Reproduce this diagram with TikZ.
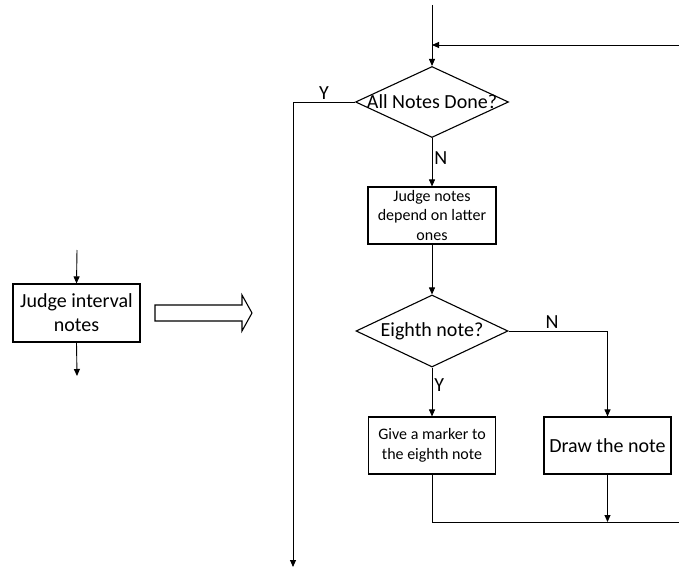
\documentclass[tikz,border=0pt]{standalone}
\usepackage{fontspec}
\setmainfont{Carlito}
\usepackage{tikz}
\usetikzlibrary{arrows.meta,shapes.geometric}
\newcommand{\bigtxt}{\fontsize{20}{24}\selectfont}
\newcommand{\smalltxt}{\fontsize{16}{19.5}\selectfont}

\begin{document}
\begin{tikzpicture}[x=1pt,y=-1pt,
    box/.style={draw,line width=1.1pt,rectangle,minimum width=127pt,minimum height=57pt,align=center,inner sep=2pt},
    dia/.style={draw,line width=1.1pt,diamond,minimum width=153pt,minimum height=71pt,inner sep=0pt,label={[font=\bigtxt]center:#1}},
    arr/.style={line width=0.9pt,-{Triangle[length=7pt,width=6pt]}},
    lin/.style={line width=0.9pt},
    lab/.style={font=\bigtxt,inner sep=2pt}]
        \useasboundingbox (0,0) rectangle (679,569);
        \node[dia={All Notes Done?}] (done) at (432,102) {};
        \node[box,minimum width=128pt,font=\smalltxt] (depend) at (432,215.5) {Judge notes\\depend on latter\\ones};
        \node[dia={Eighth note?},minimum width=152pt,minimum height=72pt] (eighth) at (432,331) {};
        \node[box,font=\smalltxt] (marker) at (432,445.5) {Give a marker to\\the eighth note};
        \node[box,font=\bigtxt] (drawnote) at (607.5,445.5) {Draw the note};
        \node[box,minimum height=58pt,font=\bigtxt] (interval) at (76.5,313) {Judge interval\\notes};
        \coordinate (start) at (432,5);
        \coordinate (merge) at (432,45);
        \coordinate (loopin) at (679,45);
        \coordinate (loopout) at (679,522);
        \coordinate (yend) at (293,567);
        \coordinate (meet) at (drawnote.south |- loopout);
        \coordinate (inleft) at (77,250);
        \coordinate (outleft) at (77,376);
        \draw[arr] (start) -- (done.north);
        \draw[arr] (loopin) -- (merge);
        \draw[arr] (done.west) -| node[lab,above,pos=0.25] {Y} (yend);
        \draw[arr] (done.south) -- node[lab,right,pos=0.42] {N} (depend.north);
        \draw[arr] (depend.south) -- (eighth.north);
        \draw[arr] (eighth.east) -| node[lab,above,pos=0.22] {N} (drawnote.north);
        \draw[arr] (eighth.south) -- node[lab,right,pos=0.35] {Y} (marker.north);
        \draw[lin] (marker.south) |- (loopout);
        \draw[arr] (drawnote.south) -- (meet);
        \draw[arr] (inleft) -- (interval.north);
        \draw[arr] (interval.south) -- (outleft);
        \draw[line width=1.1pt] (155,305) -- (242,305) -- (242,295) -- (252,313) -- (242,331) -- (242,321) -- (155,321) -- cycle;
    \end{tikzpicture}
\end{document}
